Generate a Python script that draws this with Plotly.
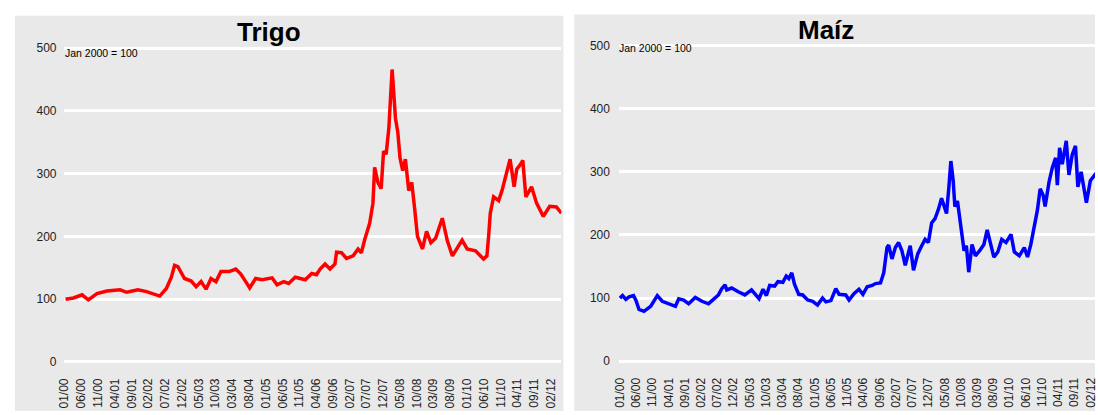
import plotly.graph_objects as go

# ---- data (x = months since Jan 2000, y = index Jan 2000 = 100) ----
TICK_POS = [0, 5, 10, 15, 20, 25, 30, 35, 40, 45, 50, 55, 60, 65, 70,
            75, 80, 85, 90, 95, 100, 105, 110, 115, 120, 125, 130, 135, 140, 145]
TICK_LABELS = ["01/00", "06/00", "11/00", "04/01", "09/01", "02/02", "07/02", "12/02",
               "05/03", "10/03", "03/04", "08/04", "01/05", "06/05", "11/05", "04/06",
               "09/06", "02/07", "07/07", "12/07", "05/08", "10/08", "03/09", "08/09",
               "01/10", "06/10", "11/10", "04/11", "09/11", "02/12"]
Y_TICKS = [0, 100, 200, 300, 400, 500]

wheat_m = [0.3, 2.66, 5.23, 7.09, 9.67, 12.62, 16.55, 18.53, 21.87, 24.45, 28.38, 30.36,
           31.84, 32.81, 33.79, 35.77, 37.75, 39.23, 40.70, 42.18, 43.66, 45.14, 46.62,
           49.07, 51.05, 52.53, 54.01, 55.19, 56.96, 58.91, 61.87, 63.35, 65.33, 66.80,
           68.78, 71.74, 73.69, 75.1, 76.17, 77.65, 79.13, 80.61, 81.08, 82.56, 84.04,
           86.02, 87.50, 88.47, 89.48, 90.95, 91.93, 92.43, 93.41, 94.38, 95.09, 95.86,
           96.66, 97.16, 97.64, 98.05, 98.64, 99.32, 100.0, 100.8, 101.6, 102.6, 103.5,
           104.3, 105.2, 106.7, 107.9, 109.2, 110.6, 112.6, 114.1, 115.6, 118.5, 120.0,
           122.5, 124.9, 125.9, 126.4, 126.9, 127.9, 129.4, 130.4, 131.3, 132.8, 134.0,
           134.8, 135.8, 136.6, 137.5, 139.2, 140.7, 142.7, 144.6, 146.6, 148.1]
wheat_v = [100, 102, 107, 99, 109, 113, 115, 111, 115, 112, 105, 117,
           135, 154, 152, 133, 129, 120, 128, 116, 133, 128, 144,
           144, 148, 140, 128, 118, 133, 131, 134, 123, 128, 125,
           135, 131, 141, 139, 148, 156, 148, 156, 175, 174, 165,
           169, 180, 174, 195, 221, 253, 310, 286, 276, 336, 331,
           372, 435, 466, 435, 388, 367, 325, 305, 323, 273, 286,
           247, 200, 180, 208, 190, 197, 229, 193, 169, 194, 180,
           177, 164, 169, 200, 237, 263, 257, 273, 292, 323, 279,
           307, 314, 321, 263, 279, 253, 232, 248, 247, 237]

maize_m = [0.0, 0.82, 1.83, 2.84, 4.18, 4.89, 5.89, 7.42, 9.47, 11.51, 13.04, 15.06,
           17.10, 18.11, 19.64, 21.17, 23.21, 25.26, 27.28, 28.80, 30.33, 31.37, 32.38,
           32.90, 34.42, 36.44, 38.48, 40.53, 41.54, 42.85, 44.07, 45.11, 46.12, 47.65,
           48.66, 50.18, 51.22, 52.02, 52.93, 53.76, 55.07, 56.29, 57.82, 59.35, 60.87,
           62.40, 63.44, 64.97, 66.49, 67.50, 69.55, 70.56, 72.08, 73.61, 74.83, 76.15,
           77.67, 78.71, 80.24, 81.25, 82.25, 82.77, 83.78, 84.82, 85.83, 86.84, 87.87,
           88.67, 89.40, 90.41, 91.72, 92.94, 93.98, 94.99, 96.00, 97.04, 98.05, 99.05,
           99.88, 100.58, 101.31, 101.92, 102.63, 103.15, 103.94, 104.67, 105.38, 105.99,
           106.69, 107.42, 108.43, 109.44, 110.78, 112.09, 113.10, 114.14, 115.15, 116.37,
           117.59, 118.90, 120.43, 121.47, 123.0, 124.53, 125.53, 126.54, 127.58, 128.59,
           129.41, 130.33, 130.94, 132.16, 133.17, 134.18, 134.70, 135.40, 136.22, 137.45,
           138.27, 139.28, 140.29, 141.02, 142.03, 143.65, 144.87, 146.21, 147.0]
maize_v = [100, 104, 98, 102, 104, 97, 82, 79, 87, 104, 95, 91,
           87, 99, 97, 91, 101, 95, 91, 98, 105, 115, 121,
           113, 116, 110, 105, 113, 107, 99, 114, 104, 120, 119,
           126, 125, 135, 131, 140, 122, 106, 105, 97, 95, 89,
           100, 94, 96, 115, 106, 105, 97, 107, 114, 106, 118,
           120, 123, 124, 140, 180, 184, 162, 180, 188, 175, 152,
           167, 183, 144, 170, 183, 193, 188, 219, 226, 240, 258,
           247, 234, 276, 317, 286, 245, 254, 224, 196, 175,
           183, 141, 185, 167, 175, 185, 208, 188, 165, 173,
           193, 188, 201, 173, 167, 180, 165, 185, 214, 240,
           273, 263, 245, 284, 307, 322, 279, 338, 312, 349,
           295, 327, 341, 276, 300, 251, 286, 296, 300]

TITLES = ["Trigo", "Maíz"]
NOTE = "Jan 2000 = 100"

# ---- figure ----
W, H = 1098, 415
FONT = "Liberation Sans, Arial, sans-serif"
GRAY = "#E9E9E9"

def px(x):
    return x / W

def py(y):
    return (H - y) / H

fig = go.Figure()
fig.add_trace(go.Scatter(x=wheat_m, y=wheat_v, mode="lines",
                         line=dict(color="#FF0000", width=3.5), xaxis="x", yaxis="y",
                         showlegend=False, hoverinfo="skip"))
fig.add_trace(go.Scatter(x=maize_m, y=maize_v, mode="lines",
                         line=dict(color="#0000FF", width=3.5), xaxis="x2", yaxis="y2",
                         showlegend=False, hoverinfo="skip"))

xcommon = dict(tickmode="array", tickvals=TICK_POS, ticktext=TICK_LABELS, tickangle=-90,
               showgrid=False, zeroline=False, showline=False, ticks="",
               tickfont=dict(family=FONT, size=12, color="#222222"),
               ticklabelstandoff=10, ticklabeloverflow="allow", fixedrange=True)
ycommon = dict(tickmode="array", tickvals=Y_TICKS, range=[-5, 505], showgrid=True,
               gridcolor="#FFFFFF", gridwidth=3, zeroline=False, showline=False, ticks="",
               tickfont=dict(family=FONT, size=12, color="#222222"), fixedrange=True)

fig.update_layout(
    width=W, height=H,
    margin=dict(l=0, r=0, t=0, b=0),
    paper_bgcolor="white", plot_bgcolor="rgba(0,0,0,0)",
    xaxis=dict(domain=[px(58), px(560)], range=[-0.3, 148.1], anchor="y", **xcommon),
    yaxis=dict(domain=[py(368.2), py(41.8)], anchor="x", ticklabelstandoff=6, **ycommon),
    xaxis2=dict(domain=[px(618), 1.0], range=[-0.3, 146.3], anchor="y2", **xcommon),
    yaxis2=dict(domain=[py(367.5), py(39.1)], anchor="x2", ticklabelstandoff=8, **ycommon),
    shapes=[
        dict(type="rect", xref="paper", yref="paper", x0=px(9), x1=px(562), y0=0, y1=py(12),
             fillcolor=GRAY, line=dict(width=0), layer="below"),
        dict(type="rect", xref="paper", yref="paper", x0=px(573), x1=1.0, y0=0, y1=py(10.7),
             fillcolor=GRAY, line=dict(width=0), layer="below"),
    ],
    annotations=[
        dict(text="<b>" + TITLES[0] + "</b>", xref="paper", yref="paper", x=px(265), y=py(29),
             xanchor="center", yanchor="middle", showarrow=False,
             font=dict(family=FONT, size=26, color="#000000")),
        dict(text="<b>" + TITLES[1] + "</b>", xref="paper", yref="paper", x=px(827), y=py(27),
             xanchor="center", yanchor="middle", showarrow=False,
             font=dict(family=FONT, size=26, color="#000000")),
        dict(text=NOTE, xref="paper", yref="paper", x=px(57), y=py(50),
             xanchor="left", yanchor="middle", showarrow=False,
             font=dict(family=FONT, size=10.5, color="#000000")),
        dict(text=NOTE, xref="paper", yref="paper", x=px(616), y=py(45),
             xanchor="left", yanchor="middle", showarrow=False,
             font=dict(family=FONT, size=10.5, color="#000000")),
    ],
)

fig.write_html("out.html", config={"displayModeBar": False})

# remove default page margins so the figure fills the window exactly
with open("out.html", "r", encoding="utf-8") as f:
    html = f.read()
style = "<style>html,body{margin:0;padding:0;overflow:hidden;}</style>"
if "<head>" in html:
    html = html.replace("<head>", "<head>" + style, 1)
else:
    html = style + html
with open("out.html", "w", encoding="utf-8") as f:
    f.write(html)
